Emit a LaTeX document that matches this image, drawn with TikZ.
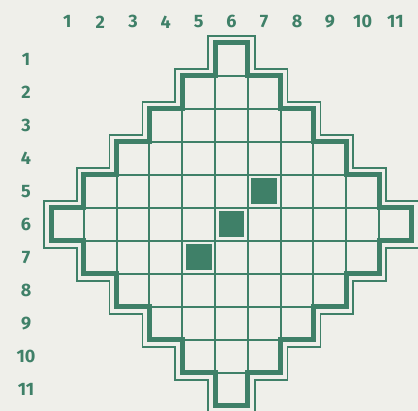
\documentclass[tikz,border=0pt]{standalone}
\usepackage{fontspec}
\setmainfont{Fira Sans}
\usepackage{tikz}
\usetikzlibrary{positioning,calc}
\definecolor{Grid}{HTML}{3F8068}
\definecolor{Paper}{HTML}{EFEFEA}

% staircase outline of the diamond, in cell units
\newcommand{\diamondpath}{(5,0) -- (6,0) -- (6,1) -- (7,1) -- (7,2) -- (8,2) -- (8,3) -- (9,3) -- (9,4) -- (10,4) -- (10,5) -- (11,5) -- (11,6) -- (10,6) -- (10,7) -- (9,7) -- (9,8) -- (8,8) -- (8,9) -- (7,9) -- (7,10) -- (6,10) -- (6,11) -- (5,11) -- (5,10) -- (4,10) -- (4,9) -- (3,9) -- (3,8) -- (2,8) -- (2,7) -- (1,7) -- (1,6) -- (0,6) -- (0,5) -- (1,5) -- (1,4) -- (2,4) -- (2,3) -- (3,3) -- (3,2) -- (4,2) -- (4,1) -- (5,1) -- cycle}

\tikzset{
  numlabel/.style={text=Grid, font=\fontsize{18}{18}\selectfont\bfseries, inner sep=0pt},
  gridline/.style={draw=Grid, line width=2pt},
  borderline/.style={draw=Grid, line width=5pt, line join=miter},
  markcell/.style={fill=Grid}
}

\begin{document}
\begin{tikzpicture}
  \fill[Paper] (0,0) rectangle (418pt,-411pt);
  \useasboundingbox (0,0) rectangle (418pt,-411pt);
  \begin{scope}[x={(32.8pt,0)}, y={(0,-33pt)}, shift={(51pt,-43pt)}]
    % outer thin line: wide green stroke, cut back with paper
    \draw[Grid, line width=15.5pt, line join=miter] \diamondpath;
    \draw[Paper, line width=12.5pt, line join=miter] \diamondpath;
    \fill[Paper] \diamondpath;
    % inner grid
    \begin{scope}
      \clip \diamondpath;
      \foreach \i in {1,...,10} {
        \draw[gridline] (\i,0) -- (\i,11);
        \draw[gridline] (0,\i) -- (11,\i);
      }
    \end{scope}
    \draw[borderline] \diamondpath;
    % marked cells
    \foreach \c/\r in {7/5, 6/6, 5/7}
      \fill[markcell] ($(\c-1,\r-1)+(3.5pt,-3.5pt)$) rectangle ($(\c,\r)+(-3.5pt,3.5pt)$);
    % numbers
    \foreach \n in {1,...,11} {
      \node[numlabel] (col\n) at (\n-0.5,-0.64) {\n};
      \node[numlabel] (row\n) at (-0.76,\n-0.5) {\n};
    }
  \end{scope}
\end{tikzpicture}
\end{document}
